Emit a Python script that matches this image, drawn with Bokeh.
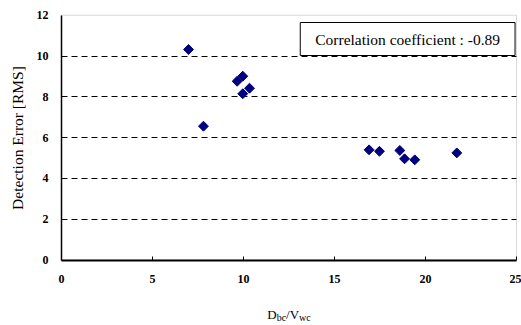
import numpy as np
from bokeh.plotting import figure
from bokeh.models import Range1d, FixedTicker, Label, ColumnDataSource, BoxAnnotation
from bokeh.embed import file_html
from bokeh.resources import INLINE

# Data
x_vals = [6.98, 7.80, 9.65, 9.96, 9.96, 10.33, 16.9, 17.47, 18.59, 18.85, 19.41, 21.72]
y_vals = [10.32, 6.56, 8.76, 9.01, 8.15, 8.42, 5.40, 5.33, 5.37, 4.96, 4.91, 5.25]
x_ticks = [0, 5, 10, 15, 20, 25]
y_ticks = [0, 2, 4, 6, 8, 10, 12]
grid_ticks = [2, 4, 6, 8, 10]
X_MAX, Y_MAX = 25, 12
corr_text = "Correlation coefficient : -0.89"
y_title = "Detection Error [RMS]"
x_title_parts = [("D", False), ("bc", True), ("/V", False), ("wc", True)]

FONT = "Liberation Serif"
W, H = 521, 325
# plot-area placement in canvas pixels
PL, PR, PT, PB = 61.0, 516.0, 14.7, 259.5
sx = (PR - PL) / X_MAX
sy = (PB - PT) / Y_MAX
x_range = Range1d(-PL / sx, X_MAX + (W - PR) / sx)
y_range = Range1d(-(H - PB) / sy, Y_MAX + PT / sy)

p = figure(width=W, height=H, output_backend="svg", toolbar_location=None,
           x_range=x_range, y_range=y_range, min_border=0)
p.background_fill_color = "white"
p.border_fill_color = "white"
p.outline_line_color = None

# gray plot-area border (top / right visible; left / bottom covered by axes)
p.add_layout(BoxAnnotation(left=0, right=X_MAX, bottom=0, top=Y_MAX, fill_color=None,
                           line_color="#808080", line_width=1, level="underlay"))

# dashed horizontal gridlines limited to the plot area
p.xgrid.visible = False
if "cross_bounds" in p.ygrid.properties():
    p.ygrid.ticker = FixedTicker(ticks=grid_ticks)
    p.ygrid.cross_bounds = (0, X_MAX)
    p.ygrid.grid_line_color = "black"
    p.ygrid.grid_line_dash = "6 4"
    p.ygrid.grid_line_width = 1
else:
    p.ygrid.visible = False
    p.segment(x0=[0] * len(grid_ticks), x1=[X_MAX] * len(grid_ticks), y0=grid_ticks, y1=grid_ticks,
              line_color="black", line_dash="6 4", line_width=1, level="underlay")

src = ColumnDataSource(dict(x=x_vals, y=y_vals))
p.scatter("x", "y", source=src, marker="square", size=7, angle=np.pi / 4,
          fill_color="#000080", line_color="#000080")

p.xaxis.fixed_location = 0
p.yaxis.fixed_location = 0
p.xaxis.bounds = (0, X_MAX)
p.yaxis.bounds = (0, Y_MAX)
p.xaxis.ticker = FixedTicker(ticks=x_ticks)
p.yaxis.ticker = FixedTicker(ticks=y_ticks)
for ax in (p.xaxis, p.yaxis):
    ax.major_label_text_font = FONT
    ax.major_label_text_font_style = "bold"
    ax.major_label_text_font_size = "12px"
    ax.major_label_text_color = "black"
    ax.minor_tick_line_color = None
    ax.axis_line_color = "black"
    ax.major_tick_line_color = "black"
p.xaxis.axis_line_width = 2
p.yaxis.axis_line_width = 1.5
p.xaxis.major_tick_in = 4
p.xaxis.major_tick_out = 0
p.xaxis.major_tick_line_width = 1
p.xaxis.major_label_standoff = 15
p.yaxis.major_tick_in = 0
p.yaxis.major_tick_out = 0
p.yaxis.major_label_standoff = 13

p.yaxis.axis_label = y_title
p.yaxis.axis_label_text_font = FONT
p.yaxis.axis_label_text_font_size = "15.5px"
p.yaxis.axis_label_text_font_style = "normal"
p.yaxis.axis_label_text_color = "black"
p.yaxis.axis_label_standoff = 8

# correlation box (screen units from the canvas' bottom-left)
p.add_layout(Label(x=(299.3 + 515) / 2, y=H - 38.5, x_units="screen", y_units="screen",
                   text=corr_text, text_font=FONT, text_font_size="15.5px",
                   text_color="black", text_align="center", text_baseline="middle",
                   border_line_color="black", border_line_width=1,
                   background_fill_color="white", padding=(15, 8)))

# x-axis title with subscripts
sizes = {False: 13, True: 10}
widths = {"D": 0.722, "bc": 0.944, "/V": 1.0, "wc": 1.166}
total = sum(widths[s] * sizes[b] for s, b in x_title_parts)
cx = (PL + PR) / 2 - total / 2
base = H - 314
for s, sub in x_title_parts:
    p.add_layout(Label(x=cx, y=base - 2.5 if sub else base, x_units="screen", y_units="screen",
                       text=s, text_font=FONT, text_font_size=f"{sizes[sub]}px",
                       text_color="black", text_align="left", text_baseline="alphabetic"))
    cx += widths[s] * sizes[sub]

open("out.html", "w").write(file_html(p, INLINE))
